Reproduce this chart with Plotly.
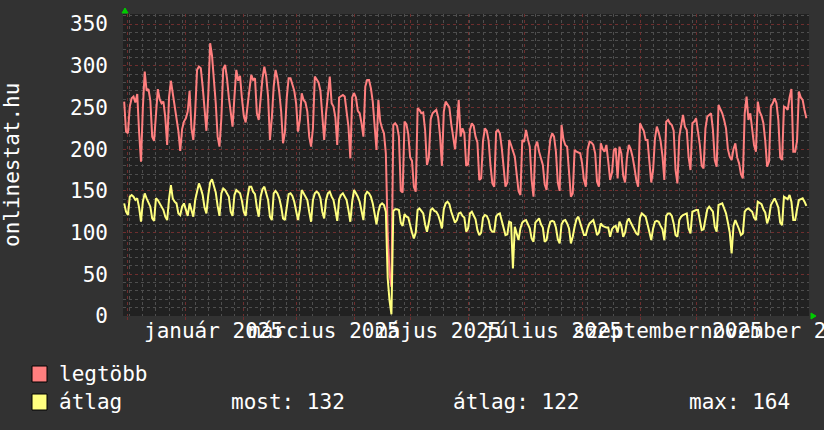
import plotly.graph_objects as go
import pandas as pd

# ---------------- data (daily values) ----------------
start_date = "2024-11-29"

legtobb = [
    257, 221, 219,
    251, 261, 263, 256, 266, 220, 185,
    250, 293, 270, 272, 258, 215, 210,
    245, 272, 260, 255, 257, 238, 205,
    262, 282, 268, 255, 236, 222, 198,
    224, 233, 237, 245, 270, 225, 211,
    245, 295, 299, 297, 275, 245, 222,
    265, 327, 312, 285, 255, 215, 203,
    237, 296, 301, 285, 262, 243, 227,
    263, 295, 282, 288, 261, 240, 232,
    255, 271, 289, 283, 285, 243, 235,
    262, 285, 299, 287, 263, 211, 237,
    275, 295, 285, 268, 245, 207, 220,
    262, 285, 285, 277, 270, 255, 221,
    235, 267, 259, 256, 245, 215, 203,
    225, 287, 284, 280, 270, 239, 211,
    243, 265, 287, 255, 251, 238, 205,
    262, 264, 265, 263, 247, 227, 189,
    262, 267, 262, 246, 243, 231, 215,
    275, 283, 283, 273, 257, 225, 199,
    259, 233, 225, 219, 195, 99, 50,
    35, 229, 231, 228, 215, 150, 148,
    233, 230, 218, 190, 186, 155, 149,
    249, 247, 243, 244, 223, 181, 190,
    236, 243, 245, 247, 238, 216, 180,
    245, 257, 254, 250, 230, 215, 200,
    225, 259, 215, 225, 219, 180, 182,
    223, 231, 228, 215, 208, 163, 165,
    210, 225, 222, 210, 180, 159, 155,
    221, 223, 219, 202, 175, 155, 160,
    211, 205, 199, 191, 170, 150, 145,
    211, 209, 223, 212, 203, 163, 143,
    203, 209, 197, 190, 181, 158, 151,
    190, 212, 219, 215, 197, 160, 150,
    229, 212, 205, 203, 170, 143, 147,
    199, 197, 196, 195, 183, 163, 155,
    200, 209, 208, 205, 195, 161, 155,
    207, 200, 197, 205, 185, 163, 172,
    199, 201, 165, 203, 195, 168, 160,
    190, 205, 200, 191, 178, 163, 155,
    231, 226, 222, 211, 211, 185, 160,
    175, 213, 227, 220, 210, 192, 163,
    233, 235, 231, 229, 222, 175, 159,
    215, 227, 241, 227, 223, 190, 175,
    231, 233, 237, 221, 205, 180, 177,
    225, 239, 241, 243, 223, 187, 179,
    253, 248, 243, 235, 225, 200, 191,
    187, 200, 207, 190, 183, 170, 165,
    243, 263, 235, 243, 227, 205, 197,
    257, 245, 240, 231, 210, 179, 185,
    251, 255, 261, 255, 235, 190, 187,
    251, 250, 247, 262, 272, 197, 197,
    210, 269, 262, 259, 247, 237,
]

atlag = [
    135, 125, 121,
    143, 145, 143, 139, 141, 130, 113,
    137, 147, 141, 136, 131, 117, 114,
    141, 139, 135, 131, 127, 119, 115,
    140, 157, 141, 137, 135, 123, 121,
    131, 135, 128, 120, 135, 125, 119,
    139, 151, 159, 153, 145, 130, 123,
    145, 160, 164, 155, 148, 132, 120,
    147, 153, 151, 147, 143, 125, 120,
    145, 151, 149, 147, 138, 125, 120,
    143, 155, 155, 149, 146, 130, 119,
    143, 152, 155, 147, 139, 119, 115,
    147, 150, 147, 141, 131, 117, 115,
    131, 146, 147, 144, 137, 125, 115,
    128, 151, 147, 143, 139, 125, 113,
    139, 147, 149, 147, 141, 125, 117,
    139, 147, 149, 143, 139, 127, 114,
    140, 145, 147, 143, 139, 127, 113,
    137, 151, 147, 143, 137, 127, 115,
    145, 149, 147, 143, 135, 123, 110,
    125, 133, 135, 133, 125, 45, 18,
    2, 126, 128, 128, 127, 112, 108,
    122, 119, 118, 108, 100, 93, 100,
    127, 129, 126, 123, 110, 101, 112,
    127, 129, 126, 125, 121, 114, 105,
    128, 135, 137, 134, 125, 118, 112,
    115, 123, 124, 120, 118, 101, 105,
    123, 125, 121, 116, 103, 97, 100,
    118, 121, 120, 115, 104, 101, 101,
    119, 122, 123, 115, 106, 97, 98,
    113, 112, 57, 107, 100, 91, 105,
    112, 114, 115, 110, 105, 93, 89,
    112, 115, 117, 110, 106, 89, 91,
    105, 113, 114, 113, 106, 92, 87,
    110, 114, 115, 111, 105, 87, 95,
    107, 116, 119, 111, 105, 97, 97,
    106, 111, 113, 115, 107, 97, 100,
    111, 108, 107, 106, 106, 95, 104,
    107, 108, 100, 113, 108, 95, 100,
    113, 117, 112, 107, 103, 99, 97,
    118, 123, 121, 119, 110, 100, 91,
    105, 113, 114, 113, 108, 104, 91,
    120, 123, 123, 120, 111, 97, 95,
    115, 119, 121, 122, 123, 105, 99,
    125, 126, 127, 127, 115, 103, 104,
    119, 128, 131, 128, 125, 107, 101,
    133, 134, 135, 129, 123, 112, 100,
    75, 108, 115, 110, 104, 97, 99,
    125, 128, 129, 127, 125, 118, 115,
    137, 135, 134, 128, 124, 111, 118,
    133, 138, 141, 136, 130, 112, 109,
    143, 141, 140, 145, 137, 115, 115,
    128, 139, 140, 141, 137, 132,
]

month_label_dates = ["2025-01-16", "2025-03-16", "2025-05-16",
                     "2025-07-16", "2025-09-16", "2025-11-16"]
month_label_texts = ["január 2025", "március 2025", "május 2025",
                     "július 2025", "szeptember 2025", "november 2025"]

y_title = "onlinestat.hu"
series_names = ["legtöbb", "átlag"]
stat_most = 132
stat_atlag = 122
stat_max = 164

# ---------------- styling ----------------
FONT = "DejaVu Sans Mono"
BG = "#323232"
CANVAS = "#212121"
RED = "#ff7f7f"
YEL = "#ffff7f"
MAJOR = "#6e2e2e"
MINOR = "#4e4e4e"

W, H = 824, 430
L, R, T, B = 123, 15, 14, 114
pw, ph = W - L - R, H - T - B


def px(x):
    return (x - L) / pw


def py(y):
    return (H - B - y) / ph


dates = pd.date_range(start_date, periods=len(legtobb), freq="D")
month_starts = pd.date_range("2024-12-01", "2025-12-01", freq="MS")

fig = go.Figure()
fig.add_trace(go.Scatter(x=dates, y=legtobb, mode="lines", name=series_names[0],
                         line=dict(color=RED, width=2), showlegend=False))
fig.add_trace(go.Scatter(x=dates, y=atlag, mode="lines", name=series_names[1],
                         line=dict(color=YEL, width=2), showlegend=False))

fig.update_layout(
    width=W, height=H,
    margin=dict(l=L, r=R, t=T, b=B, pad=0),
    paper_bgcolor=BG, plot_bgcolor=CANVAS,
    font=dict(family=FONT, size=21, color="white"),
    showlegend=False,
    xaxis=dict(
        type="date",
        range=["2024-11-28 09:00", "2025-11-30 09:40"],
        tickmode="array", tickvals=month_starts, ticktext=[""] * len(month_starts),
        showticklabels=False,
        showgrid=True, gridcolor=MAJOR, griddash="dot", gridwidth=1,
        ticks="outside", ticklen=3, tickcolor=MAJOR,
        minor=dict(tick0="2024-12-02", dtick=7 * 86400000, showgrid=True,
                   gridcolor=MINOR, griddash="dot", gridwidth=1),
        zeroline=False, showline=False,
    ),
    yaxis=dict(
        range=[0, 362],
        tick0=0, dtick=50,
        showgrid=True, gridcolor=MAJOR, griddash="dot", gridwidth=1,
        minor=dict(dtick=10, showgrid=True, gridcolor=MINOR, griddash="dot", gridwidth=1),
        zeroline=False, showline=False, ticks="",
        ticklabelstandoff=14,
        tickfont=dict(family=FONT, size=21, color="white"),
    ),
)

annotations = []
for d, t in zip(month_label_dates, month_label_texts):
    annotations.append(dict(x=d, xref="x", y=py(331), yref="paper", text=t,
                            showarrow=False, xanchor="center", yanchor="middle",
                            font=dict(family=FONT, size=21, color="white")))

annotations.append(dict(x=px(12), xref="paper", y=py(165), yref="paper", text=y_title,
                        textangle=-90, showarrow=False, xanchor="center", yanchor="middle",
                        font=dict(family=FONT, size=21, color="white")))

legend_rows = [(series_names[0], 374), (series_names[1], 402)]
for name, yc in legend_rows:
    annotations.append(dict(x=px(57), xref="paper", y=py(yc), yref="paper", text=name,
                            showarrow=False, xanchor="left", yanchor="middle",
                            font=dict(family=FONT, size=21, color="white")))

stats = [(f"most: {stat_most}", 229), (f"átlag: {stat_atlag}", 451), (f"max: {stat_max}", 687)]
for t, x0 in stats:
    annotations.append(dict(x=px(x0), xref="paper", y=py(402), yref="paper", text=t,
                            showarrow=False, xanchor="left", yanchor="middle",
                            font=dict(family=FONT, size=21, color="white")))

fig.update_layout(annotations=annotations)

shapes = []
for col, y0 in [(RED, 366), (YEL, 394)]:
    shapes.append(dict(type="rect", xref="paper", yref="paper",
                       x0=px(32), x1=px(47), y0=py(y0), y1=py(y0 + 16),
                       fillcolor=col, line=dict(color="black", width=1)))

# axis arrows
shapes.append(dict(type="path", xref="paper", yref="paper", xsizemode="pixel", ysizemode="pixel",
                   xanchor=px(125), yanchor=1, path="M-3,1 L3,1 L0,6 Z",
                   fillcolor="#00cc00", line=dict(color="#00cc00", width=1)))
shapes.append(dict(type="path", xref="paper", yref="paper", xsizemode="pixel", ysizemode="pixel",
                   xanchor=1, yanchor=0, path="M2,-3 L2,3 L7,0 Z",
                   fillcolor="#00cc00", line=dict(color="#00cc00", width=1)))
fig.update_layout(shapes=shapes)

fig.write_html(
    "out.html",
    config={"displayModeBar": False},
    post_script="document.body.style.margin='0';document.body.style.overflow='hidden';",
)
